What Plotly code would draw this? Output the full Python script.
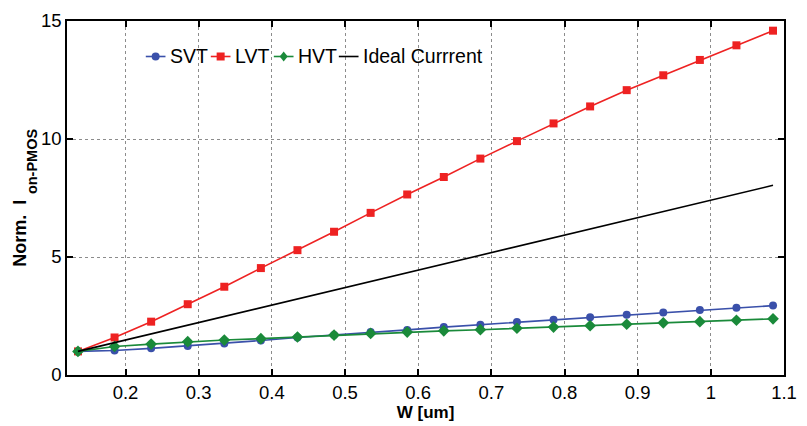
import plotly.graph_objects as go

# Transistor width sweep [um]
w_um = [0.135, 0.185, 0.235, 0.285, 0.335, 0.385, 0.435, 0.485, 0.535, 0.585,
        0.635, 0.685, 0.735, 0.785, 0.835, 0.885, 0.935, 0.985, 1.035, 1.085]

# Normalized PMOS on-current per threshold flavour
svt = [1.00, 1.04, 1.13, 1.23, 1.34, 1.46, 1.59, 1.69, 1.82, 1.91,
       2.03, 2.13, 2.25, 2.34, 2.45, 2.55, 2.65, 2.75, 2.85, 2.94]
lvt = [1.00, 1.59, 2.26, 3.00, 3.74, 4.53, 5.29, 6.07, 6.87, 7.65,
       8.39, 9.17, 9.91, 10.66, 11.38, 12.07, 12.70, 13.35, 13.97, 14.59]
hvt = [1.00, 1.21, 1.31, 1.41, 1.48, 1.54, 1.61, 1.69, 1.76, 1.82,
       1.87, 1.92, 1.98, 2.03, 2.09, 2.15, 2.21, 2.26, 2.32, 2.38]
ideal = [1.000, 1.370, 1.741, 2.111, 2.481, 2.852, 3.222, 3.593, 3.963, 4.333,
         4.704, 5.074, 5.444, 5.815, 6.185, 6.556, 6.926, 7.296, 7.667, 8.037]

x_ticks = [0.2, 0.3, 0.4, 0.5, 0.6, 0.7, 0.8, 0.9, 1.0, 1.1]
x_tick_text = ["0.2", "0.3", "0.4", "0.5", "0.6", "0.7", "0.8", "0.9", "1", "1.1"]
y_ticks = [0, 5, 10, 15]

FONT = "Liberation Sans, Arial, sans-serif"
BLUE, RED, GREEN, BLACK = "#3a50aa", "#ee2222", "#1a8a3a", "#000000"

series = [
    ("SVT", svt, BLUE, "circle", 8),
    ("LVT", lvt, RED, "square", 8),
    ("HVT", hvt, GREEN, "diamond", 9),
    ("Ideal Currrent", ideal, BLACK, None, 0),
]

fig = go.Figure()
for name, vals, color, symbol, size in series:
    if symbol:
        fig.add_trace(go.Scatter(x=w_um, y=vals, name=name, mode="lines+markers",
                                 line=dict(color=color, width=1.6),
                                 marker=dict(symbol=symbol, size=size, color=color)))
    else:
        fig.add_trace(go.Scatter(x=w_um, y=vals, name=name, mode="lines",
                                 line=dict(color=color, width=1.6)))

W, H = 807, 426
ML, MR, MT, MB = 67, 12, 10, 47
PW, PH = W - ML - MR, H - MT - MB


def px_to_paper_x(px):
    return (px - ML) / PW


def px_to_paper_y(py):
    return 1 - (py - MT) / PH


# Compact in-plot legend (short sample lines, like the original MATLAB figure)
legend_y = px_to_paper_y(47)
legend_starts = [147, 213, 277, 343]   # left end of each sample line, px
sample_len = 20
shapes, annotations = [], []
for (name, _, color, symbol, size), x_start in zip(series, legend_starts):
    x0, x1 = px_to_paper_x(x_start), px_to_paper_x(x_start + sample_len)
    xc = (x0 + x1) / 2
    shapes.append(dict(type="line", xref="paper", yref="paper", x0=x0, x1=x1,
                       y0=legend_y, y1=legend_y, line=dict(color=color, width=1.6)))
    marker_common = dict(xref="paper", yref="paper", xsizemode="pixel", ysizemode="pixel",
                         xanchor=xc, yanchor=legend_y, fillcolor=color,
                         line=dict(color=color, width=0))
    if symbol == "circle":
        shapes.append(dict(type="circle", x0=-4, x1=4, y0=-4, y1=4, **marker_common))
    elif symbol == "square":
        shapes.append(dict(type="rect", x0=-4, x1=4, y0=-4, y1=4, **marker_common))
    elif symbol == "diamond":
        shapes.append(dict(type="path", path="M 0 5 L 4 0 L 0 -5 L -4 0 Z", **marker_common))
    annotations.append(dict(text=name, xref="paper", yref="paper",
                            x=px_to_paper_x(x_start + sample_len + 3), y=legend_y,
                            xanchor="left", yanchor="middle", showarrow=False,
                            font=dict(family=FONT, size=19.5, color="black")))

# Y-axis label with a full-height subscript: main part and subscript set separately
annotations.append(dict(text="<b>Norm.&nbsp; I</b>", xref="paper", yref="paper",
                        x=px_to_paper_x(19), y=px_to_paper_y(268),
                        xanchor="center", yanchor="bottom", textangle=-90,
                        showarrow=False, font=dict(family=FONT, size=18, color="black")))
annotations.append(dict(text="<b>on-PMOS</b>", xref="paper", yref="paper",
                        x=px_to_paper_x(31.5), y=px_to_paper_y(156),
                        xanchor="center", yanchor="middle", textangle=-90,
                        showarrow=False, font=dict(family=FONT, size=14.5, color="black")))

axis_common = dict(
    showline=True, linecolor="black", linewidth=1.6, mirror="ticks",
    ticks="inside", ticklen=6, tickwidth=1.5, tickcolor="black",
    showgrid=True, gridcolor="#8c8c8c", griddash="dot", gridwidth=1,
    zeroline=False, ticklabeloverflow="allow",
    tickfont=dict(family=FONT, size=18.5, color="black"),
)

fig.update_xaxes(range=[0.12, 1.1], tickvals=x_ticks, ticktext=x_tick_text,
                 title=dict(text="<b>W [um]</b>", standoff=1,
                            font=dict(family=FONT, size=17, color="black")),
                 **axis_common)
fig.update_yaxes(range=[0, 15], tickvals=y_ticks, **axis_common)

fig.update_layout(
    width=W, height=H,
    margin=dict(l=ML, r=MR, t=MT, b=MB),
    paper_bgcolor="white", plot_bgcolor="white",
    font=dict(family=FONT, color="black"),
    showlegend=False,
    shapes=shapes,
    annotations=annotations,
)

fig.write_html("out.html")
